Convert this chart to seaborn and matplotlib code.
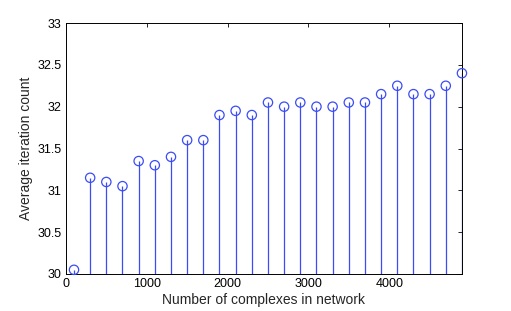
import matplotlib
matplotlib.use("Agg")
import matplotlib.pyplot as plt
import seaborn as sns
import pandas as pd

# network sizes and average iteration counts
complexes = [100, 300, 500, 700, 900, 1100, 1300, 1500, 1700, 1900, 2100, 2300, 2500,
             2700, 2900, 3100, 3300, 3500, 3700, 3900, 4100, 4300, 4500, 4700, 4900]
avg_iter = [30.05, 31.15, 31.1, 31.05, 31.35, 31.3, 31.4, 31.6, 31.6, 31.9, 31.95, 31.9, 32.05,
            32.0, 32.05, 32.0, 32.0, 32.05, 32.05, 32.15, 32.25, 32.15, 32.15, 32.25, 32.4]
xticks = [0, 1000, 2000, 3000, 4000]
yticks = [30, 30.5, 31, 31.5, 32, 32.5, 33]

df = pd.DataFrame({"n": complexes, "iters": avg_iter})

sns.set_style("white")
plt.rcParams["font.family"] = ["Liberation Sans", "DejaVu Sans"]

fig = plt.figure(figsize=(5.11, 3.11), dpi=100)
ax = fig.add_axes([0.129, 0.119, 0.775, 0.807])

blue = "#3b4cf5"
ax.vlines(df["n"], 30, df["iters"], color=blue, linewidth=0.9)
sns.scatterplot(data=df, x="n", y="iters", ax=ax, marker="o", s=45,
                facecolor="none", edgecolor=blue, linewidth=0.9, zorder=3, clip_on=False)

ax.set_xlim(0, 4900)
ax.set_ylim(30, 33)
ax.set_xticks(xticks)
ax.set_yticks(yticks)
ax.set_yticklabels(["30", "30.5", "31", "31.5", "32", "32.5", "33"])
ax.tick_params(direction="in", length=3, width=0.6, labelsize=9, top=True, right=True,
               colors="black", pad=3)
for s in ax.spines.values():
    s.set_linewidth(0.7)
    s.set_color("black")
    s.set_visible(True)

ax.set_xlabel("Number of complexes in network", fontsize=10, labelpad=2)
ax.set_ylabel("Average iteration count", fontsize=10, labelpad=3)

fig.savefig("out.png", dpi=100)
